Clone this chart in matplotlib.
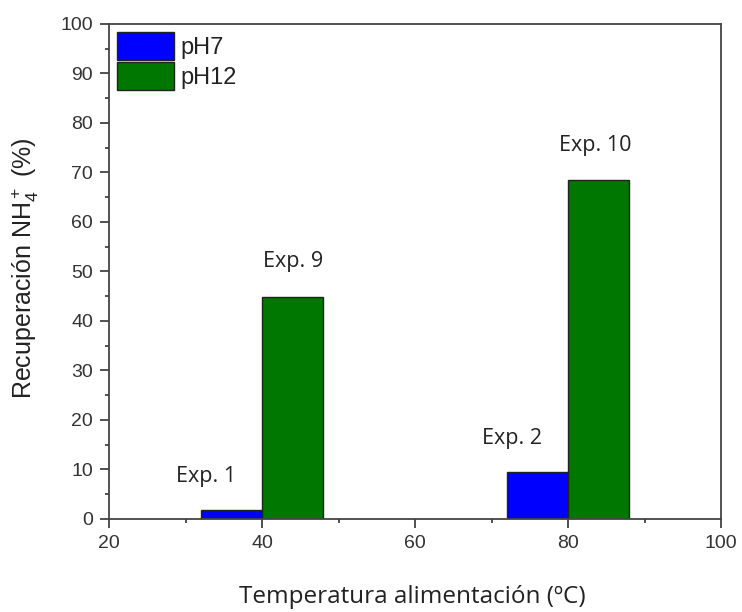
import matplotlib
matplotlib.use("Agg")
import matplotlib.pyplot as plt
from matplotlib.ticker import MultipleLocator

plt.rcParams["mathtext.fontset"] = "custom"
plt.rcParams["mathtext.rm"] = "Liberation Sans"
plt.rcParams["mathtext.default"] = "regular"

temps = [40, 80]
ph7 = [1.8, 9.4]
ph12 = [44.8, 68.5]
series_labels = ["pH7", "pH12"]
exp_labels_ph7 = ["Exp. 1", "Exp. 2"]
exp_labels_ph12 = ["Exp. 9", "Exp. 10"]

fig = plt.figure(figsize=(7.42, 6.12), dpi=100)
ax = fig.add_axes([0.147, 0.152, 0.825, 0.809])

w = 8
ax.bar(temps, ph7, width=-w, align="edge", color="#0000ff", edgecolor="#222222", linewidth=1, label=series_labels[0])
ax.bar(temps, ph12, width=w, align="edge", color="#007700", edgecolor="#222222", linewidth=1, label=series_labels[1])

annfont = dict(family=["Open Sans", "DejaVu Sans"], fontsize=15.5, color="#222222")
ph7_offsets = [(-3.3, 6.8), (-3.3, 6.9)]
ph12_offsets = [(4.0, 7.2), (3.5, 7.0)]
for t, v, lab, (dx, dy) in zip(temps, ph7, exp_labels_ph7, ph7_offsets):
    ax.text(t - w / 2 + dx, v + dy, lab, ha="center", va="center", **annfont)
for t, v, lab, (dx, dy) in zip(temps, ph12, exp_labels_ph12, ph12_offsets):
    ax.text(t + dx, v + dy, lab, ha="center", va="center", **annfont)

ax.set_xlim(20, 100)
ax.set_ylim(0, 100)
ax.xaxis.set_major_locator(MultipleLocator(20))
ax.xaxis.set_minor_locator(MultipleLocator(10))
ax.yaxis.set_major_locator(MultipleLocator(10))
ax.yaxis.set_minor_locator(MultipleLocator(5))
ax.tick_params(which="both", direction="out", color="#333333", width=1.2)
ax.tick_params(which="major", length=6.5, pad=5, labelsize=14, labelcolor="#333333")
ax.tick_params(which="minor", length=3)
for tl in ax.get_xticklabels() + ax.get_yticklabels():
    tl.set_family(["Liberation Sans", "DejaVu Sans"])
for s in ax.spines.values():
    s.set_color("#444444")
    s.set_linewidth(1.3)

ax.set_xlabel("Temperatura alimentación (ºC)", family=["Open Sans", "DejaVu Sans"], fontsize=17.5, color="#222222", va="center")
ax.xaxis.set_label_coords(0.495, -0.158)
ax.set_ylabel("Recuperación NH$_4^+$ (%)", family=["Liberation Sans", "DejaVu Sans"], fontsize=18, color="#222222", va="center")
ax.yaxis.set_label_coords(-0.137, 0.507)

leg = ax.legend(loc="upper left", bbox_to_anchor=(0.013, 0.984), frameon=False,
                handlelength=2.4, handleheight=1.45, handletextpad=0.3, labelspacing=0.1,
                borderpad=0, borderaxespad=0,
                prop={"family": ["Liberation Sans", "DejaVu Sans"], "size": 17})
for t in leg.get_texts():
    t.set_color("#222222")

fig.savefig("out.png", dpi=100)
